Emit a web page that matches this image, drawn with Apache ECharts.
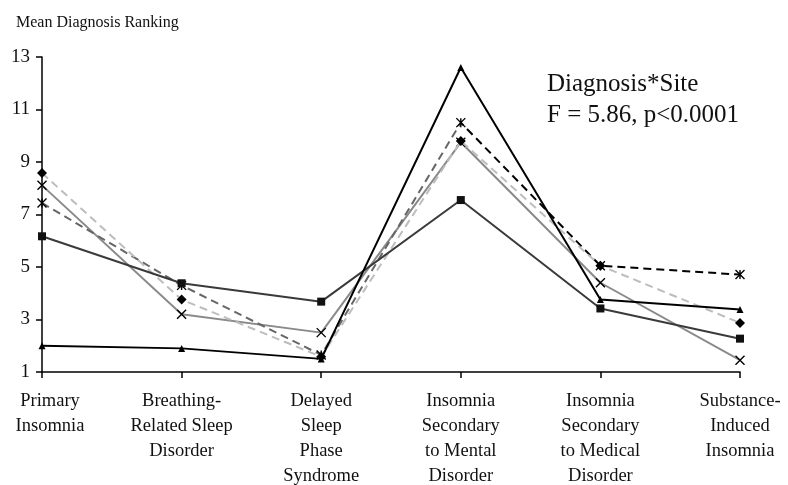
<!DOCTYPE html>
<html>
<head>
<meta charset="utf-8">
<script src="https://cdn.jsdelivr.net/npm/echarts@6/dist/echarts.min.js"></script>
<style>
  html, body { margin: 0; padding: 0; background: #fff; }
  #chart { width: 788px; height: 485px; }
</style>
</head>
<body>
<div id="chart"></div>
<script>
// Diagnosis categories along the x axis
const categories = [
  'Primary\nInsomnia',
  'Breathing-\nRelated Sleep\nDisorder',
  'Delayed\nSleep\nPhase\nSyndrome',
  'Insomnia\nSecondary\nto Mental\nDisorder',
  'Insomnia\nSecondary\nto Medical\nDisorder',
  'Substance-\nInduced\nInsomnia'
];

// Mean diagnosis ranking per site
const siteDiamond  = [8.58, 3.76, 1.58, 9.80, 5.05, 2.87];
const siteSquare   = [6.17, 4.38, 3.68, 7.55, 3.42, 2.27];
const siteTriangle = [2.00, 1.90, 1.50, 12.60, 3.76, 3.38];
const siteCross    = [8.11, 3.20, 2.50, 9.75, 4.40, 1.45];
const siteStar     = [7.44, 4.30, 1.65, 10.50, 5.05, 4.71];

const yTicks = { min: 1, max: 13, step: 2 };

const axisTitle = 'Mean Diagnosis Ranking';
const noteLines = ['Diagnosis*Site', 'F = 5.86, p<0.0001'];

const SERIF = '"Liberation Serif", "DejaVu Serif", serif';
const dash = [8, 5];
const starPath = 'path://M0,0L10,10M10,0L0,10M5,0L5,10';
const crossPath = 'path://M0,0L10,10M10,0L0,10';

const chart = echarts.init(document.getElementById('chart'));

chart.setOption({
  animation: false,
  backgroundColor: '#fff',
  textStyle: { fontFamily: SERIF },
  grid: {
    left: 42, right: 48, top: 57, bottom: 113,
    containLabel: false, outerBoundsMode: 'none'
  },
  title: [
    {
      text: axisTitle, left: 11, top: 10,
      textStyle: { fontFamily: SERIF, fontSize: 16, fontWeight: 'normal', color: '#111' }
    },
    {
      text: noteLines.join('\n'), left: 542, top: 64,
      textStyle: { fontFamily: SERIF, fontSize: 25, fontWeight: 'normal', color: '#111', lineHeight: 31 }
    }
  ],
  xAxis: {
    type: 'category',
    boundaryGap: false,
    data: categories.map((c, i) => i === 0
      ? { value: c, textStyle: { padding: [0, 0, 0, 16] } }
      : c),
    axisLine: { lineStyle: { color: '#000', width: 1.5 } },
    axisTick: { show: true, alignWithLabel: true, length: 6, lineStyle: { color: '#000', width: 1.5 } },
    axisLabel: {
      interval: 0, margin: 17, fontFamily: SERIF, fontSize: 18.5, color: '#111', lineHeight: 25
    },
    splitLine: { show: false }
  },
  yAxis: {
    type: 'value',
    min: yTicks.min, max: yTicks.max, interval: yTicks.step,
    axisLine: { show: true, lineStyle: { color: '#000', width: 1.5 } },
    axisTick: { show: true, length: 6, lineStyle: { color: '#000', width: 1.5 } },
    axisLabel: { margin: 12, fontFamily: SERIF, fontSize: 19, color: '#111' },
    splitLine: { show: false }
  },
  visualMap: {
    show: false,
    type: 'piecewise',
    seriesIndex: 4,
    dimension: 0,
    pieces: [
      { gte: 0, lte: 3, color: '#666' },
      { gt: 3, lte: 5, color: '#000' }
    ]
  },
  series: [
    {
      name: 'Site A', type: 'line', data: siteDiamond, z: 3,
      symbol: 'diamond', symbolSize: 10,
      lineStyle: { color: '#bdbdbd', width: 2, type: dash },
      itemStyle: { color: '#000' }
    },
    {
      name: 'Site B', type: 'line', data: siteSquare, z: 4,
      symbol: 'rect', symbolSize: 8,
      lineStyle: { color: '#3a3a3a', width: 2 },
      itemStyle: { color: '#111' }
    },
    {
      name: 'Site C', type: 'line', data: siteTriangle, z: 5,
      symbol: 'triangle', symbolSize: 7,
      lineStyle: { color: '#000', width: 2 },
      itemStyle: { color: '#000' }
    },
    {
      name: 'Site D', type: 'line', data: siteCross, z: 2,
      symbol: crossPath, symbolSize: 9,
      lineStyle: { color: '#8a8a8a', width: 2 },
      itemStyle: { color: 'transparent', borderColor: '#000', borderWidth: 1.4 }
    },
    {
      name: 'Site E', type: 'line', data: siteStar, z: 2,
      symbol: starPath, symbolSize: 9,
      lineStyle: { width: 2, type: dash },
      itemStyle: { color: 'transparent', borderColor: '#000', borderWidth: 1.4 }
    }
  ]
});
</script>
</body>
</html>
